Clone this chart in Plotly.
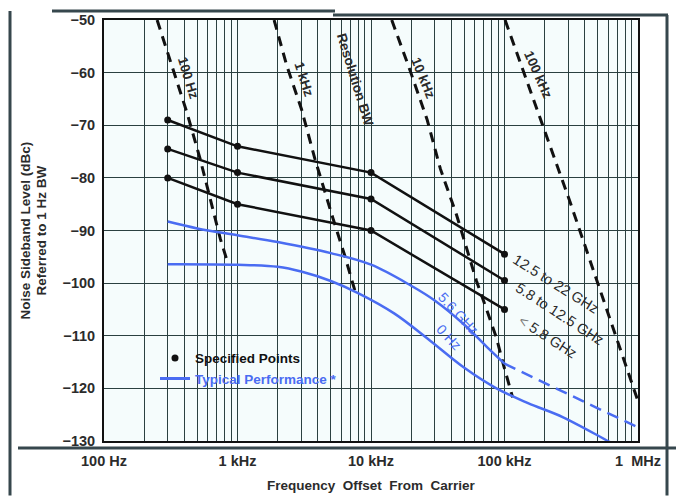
import plotly.graph_objects as go

# ---------------- data ----------------
spec_freq = [300, 1000, 10000, 100000]
spec_12_22 = [-69, -74, -79, -94.5]
spec_58_125 = [-74.5, -79, -84, -99.5]
spec_lt58 = [-80, -85, -90, -105]

typ56_freq = [300, 500, 1000, 2000, 5000, 10000, 20000, 30000, 50000, 75000, 100000]
typ56_db = [-88.3, -89.6, -90.9, -92.2, -94.3, -96.5, -100.5, -103.3, -107.9, -112.3, -115.3]
typ56x_freq = [100000, 200000, 500000, 1000000]
typ56x_db = [-115.3, -119.0, -123.8, -127.4]

typ0_freq = [300, 1000, 2000, 3000, 5000, 8000, 15000, 27600, 50000, 87000, 150000, 275000, 616000, 1000000]
typ0_db = [-96.4, -96.5, -96.9, -97.8, -99.6, -101.9, -105.8, -110.9, -116.1, -120.0, -122.8, -125.5, -130.2, -133.0]

rbw100_freq = [250, 329, 417, 525, 742, 851]
rbw100_db = [-50, -59.4, -67.5, -76.4, -91.5, -96.4]
rbw1k_freq = [1880, 2340, 3020, 3800, 5190, 6380, 7590]
rbw1k_db = [-50, -58.7, -67, -76.4, -87.7, -94.9, -101.5]
rbw10k_freq = [14300, 19500, 26300, 33100, 43700, 50100, 55000, 61700, 74100, 87100, 97700, 115000]
rbw10k_db = [-50, -59.4, -68.9, -78.3, -87, -92, -95.3, -99.6, -105.3, -110.4, -115.3, -121.7]
rbw100k_freq = [101000, 309000, 966000, 1000000]
rbw100k_db = [-50, -84.5, -121.3, -122.5]

x_tick_vals = [100, 1000, 10000, 100000, 1000000]
x_tick_text = ["100 Hz", "1 kHz", "10 kHz", "100 kHz", "1\u00a0\u00a0MHz"]
y_tick_vals = [-130, -120, -110, -100, -90, -80, -70, -60, -50]
y_tick_text = ["\u2212130", "\u2212120", "\u2212110", "\u2212100", "\u221290", "\u221280", "\u221270", "\u221260", "\u221250"]

# ---------------- styles ----------------
BLUE = "#4a6cf2"
BLACK = "#111111"
TXT = "#2b2b2b"
PBG = "#f5fcfc"
FONT = "Liberation Sans, Arial, sans-serif"

fig = go.Figure()

# resolution BW dashed lines
for fx, fy in [(rbw100_freq, rbw100_db), (rbw1k_freq, rbw1k_db),
               (rbw10k_freq, rbw10k_db), (rbw100k_freq, rbw100k_db)]:
    fig.add_trace(go.Scatter(x=fx, y=fy, mode="lines", showlegend=False,
                             line=dict(color=BLACK, width=3, dash="10px,7px"),
                             hoverinfo="skip"))

# typical performance (blue)
fig.add_trace(go.Scatter(x=typ56_freq, y=typ56_db, mode="lines", showlegend=False,
                         line=dict(color=BLUE, width=2.5, shape="spline")))
fig.add_trace(go.Scatter(x=typ56x_freq, y=typ56x_db, mode="lines", showlegend=False,
                         line=dict(color=BLUE, width=2.5, dash="12px,7px")))
fig.add_trace(go.Scatter(x=typ0_freq, y=typ0_db, mode="lines", showlegend=False,
                         line=dict(color=BLUE, width=2.5, shape="spline")))

# specified curves (black)
for ys in [spec_12_22, spec_58_125, spec_lt58]:
    fig.add_trace(go.Scatter(x=spec_freq, y=ys, mode="lines+markers", showlegend=False,
                             line=dict(color=BLACK, width=2.5),
                             marker=dict(color=BLACK, size=7)))

# legend entries
fig.add_trace(go.Scatter(x=[None], y=[None], mode="markers", name="<b>Specified Points</b>",
                         marker=dict(color=BLACK, size=7)))
fig.add_trace(go.Scatter(x=[None], y=[None], mode="lines",
                         name="<b><span style='color:%s'>Typical Performance *</span></b>" % BLUE,
                         line=dict(color=BLUE, width=3)))

# ---------------- text labels ----------------
def ann(x, y, text, angle, color=TXT, size=12, bold=True):
    t = "<b>%s</b>" % text if bold else text
    fig.add_annotation(x=x, y=y, xref="paper", yref="paper", text=t, showarrow=False,
                       textangle=angle, font=dict(family=FONT, size=size, color=color),
                       xanchor="center", yanchor="middle")

W0, W1, T0, B0 = 104, 638, 17, 441
def px(xp):
    return (xp - W0) / (W1 - W0)
def py(yp):
    return (B0 - yp) / (B0 - T0)

ann(px(188), py(75), "100 Hz", 73, size=13.5)
ann(px(304), py(77), "1 kHz", 72, size=13.5)
ann(px(355), py(77), "Resolution BW", 73, size=13.5)
ann(px(423), py(75), "10 kHz", 68, size=13.5)
ann(px(538), py(72), "100 kHz", 66, size=13.5)
ann(px(458), py(312), "5.6 GHz", 47, color=BLUE, size=14, bold=False)
ann(px(449), py(336), "0 Hz", 47, color=BLUE, size=14, bold=False)
ann(px(556), py(283), "12.5 to 22 GHz", 32, size=14.5, bold=False)
ann(px(560), py(313), "5.8 to 12.5 GHz", 33, size=14.5, bold=False)
ann(px(548), py(336), "<span style='color:#777'>&lt;</span> 5.8 GHz", 33, size=14.5, bold=False)

# axis titles
ann(px(25), 0.5, "Noise Sideband Level (dBc)", -90, size=13.5)
ann(px(41), 0.5, "Referred to 1 Hz BW", -90, size=13.5)
ann(0.5, py(486), "Frequency\u00a0\u00a0Offset\u00a0\u00a0From\u00a0\u00a0Carrier", 0, size=13.5)

# scan-frame lines
frame = "#36474d"
for (x0, y0, x1, y1, w) in [(52, 8, 335, 8, 3), (333, 12, 668, 12, 3),
                            (10, 8, 10, 496, 3), (667, 12, 667, 496, 3),
                            (18, 448, 676, 448, 3)]:
    fig.add_shape(type="line", xref="paper", yref="paper",
                  x0=px(x0), y0=py(y0), x1=px(x1), y1=py(y1),
                  line=dict(color=frame, width=w), layer="above")

# grid values
grid_x = [m * 10 ** d for d in range(2, 6) for m in range(1, 10)] + [1000000]
grid_text = [x_tick_text[x_tick_vals.index(v)] if v in x_tick_vals else "" for v in grid_x]

fig.update_layout(
    width=676, height=496,
    margin=dict(l=W0, r=676 - W1, t=T0, b=496 - B0),
    paper_bgcolor="white", plot_bgcolor=PBG,
    font=dict(family=FONT, color=TXT),
    legend=dict(x=px(155), y=py(342), xanchor="left", yanchor="top",
                bgcolor="rgba(0,0,0,0)", font=dict(family=FONT, size=13.5, color=BLACK),
                tracegroupgap=0, itemwidth=30),
    xaxis=dict(type="log", range=[2, 6], tickvals=grid_x, ticktext=grid_text,
               showgrid=True, gridcolor="#2a4040", gridwidth=1,
               showline=True, linecolor=BLACK, linewidth=2, mirror=True,
               ticks="", ticklabelstandoff=6,
               tickfont=dict(family=FONT, size=14.5, color=TXT, weight="bold"),
               zeroline=False),
    yaxis=dict(range=[-130, -50], tickvals=y_tick_vals, ticktext=y_tick_text,
               showgrid=True, gridcolor="#2a4040", gridwidth=1,
               showline=True, linecolor=BLACK, linewidth=2, mirror=True,
               ticks="", ticklabelstandoff=4,
               tickfont=dict(family=FONT, size=14.5, color=TXT, weight="bold"),
               zeroline=False),
)

fig.write_html("out.html", config={"displayModeBar": False},
               post_script="document.body.style.margin='0px';")
